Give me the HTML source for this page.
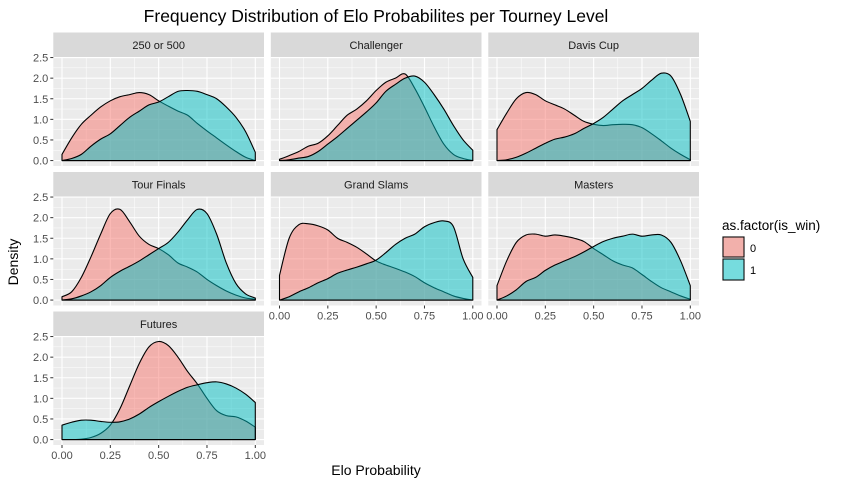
<!DOCTYPE html>
<html><head><meta charset="utf-8"><style>
body{margin:0;background:#fff;}
svg{display:block;font-family:"Liberation Sans",Arial,sans-serif;}
</style></head><body>
<svg id="chart" width="842" height="487" viewBox="0 0 842 487">
<text x="376" y="22" text-anchor="middle" font-size="17.5" fill="#000">Frequency Distribution of Elo Probabilites per Tourney Level</text>
<text x="376" y="475" text-anchor="middle" font-size="14" fill="#000">Elo Probability</text>
<text transform="translate(18,262) rotate(-90)" text-anchor="middle" font-size="14" fill="#000">Density</text>
<g>
<text x="722" y="230" font-size="13.5" fill="#000">as.factor(is_win)</text>
<rect x="722" y="236" width="23" height="22" fill="#EBEBEB"/>
<rect x="723" y="237" width="21" height="20" fill="#F2B0AB" stroke="#000" stroke-width="1"/>
<text x="750" y="252" font-size="11" fill="#000">0</text>
<rect x="722" y="258" width="23" height="23" fill="#EBEBEB"/>
<rect x="723" y="259" width="21" height="21" fill="#76DCDE" stroke="#000" stroke-width="1"/>
<text x="750" y="274" font-size="11" fill="#000">1</text>
</g>
</svg>
<script>
const panelNames = ["250 or 500","Challenger","Davis Cup","Tour Finals","Grand Slams","Masters","Futures"];
const xGrid = [0,0.05,0.1,0.15,0.2,0.25,0.3,0.35,0.4,0.45,0.5,0.55,0.6,0.65,0.7,0.75,0.8,0.85,0.9,0.95,1];
const lossSeries = [
 [0.15,0.55,0.88,1.1,1.3,1.45,1.55,1.6,1.65,1.6,1.45,1.32,1.2,1.1,0.9,0.72,0.55,0.38,0.22,0.08,0.0],
 [0.03,0.12,0.22,0.35,0.42,0.6,0.85,1.1,1.25,1.45,1.7,1.9,2.0,2.1,1.75,1.3,0.82,0.4,0.15,0.05,0.0],
 [0.75,1.15,1.5,1.65,1.6,1.45,1.35,1.25,1.1,0.95,0.88,0.85,0.87,0.88,0.87,0.8,0.65,0.48,0.3,0.15,0.02],
 [0.08,0.2,0.55,1.05,1.6,2.1,2.2,1.9,1.55,1.35,1.25,1.1,0.9,0.8,0.68,0.5,0.35,0.22,0.12,0.05,0.02],
 [0.6,1.5,1.83,1.85,1.8,1.7,1.5,1.4,1.28,1.12,0.95,0.85,0.77,0.68,0.57,0.42,0.3,0.2,0.1,0.04,0.0],
 [0.35,0.95,1.4,1.58,1.6,1.55,1.58,1.55,1.5,1.42,1.25,1.1,0.95,0.85,0.78,0.62,0.45,0.3,0.2,0.1,0.02],
 [0.0,0.0,0.01,0.05,0.15,0.35,0.75,1.3,1.85,2.25,2.38,2.28,2.0,1.65,1.35,1.0,0.7,0.58,0.55,0.45,0.3]
];
const winSeries = [
 [0,0.05,0.15,0.35,0.52,0.65,0.85,1.05,1.2,1.35,1.42,1.55,1.68,1.7,1.68,1.6,1.5,1.3,1.05,0.7,0.2],
 [0,0.02,0.06,0.1,0.22,0.4,0.58,0.78,0.98,1.18,1.4,1.68,1.85,2.0,2.05,1.9,1.6,1.25,0.85,0.5,0.25],
 [0,0.02,0.08,0.18,0.3,0.42,0.52,0.57,0.65,0.78,0.9,1.05,1.25,1.45,1.6,1.75,1.95,2.12,2.05,1.6,0.95],
 [0,0.03,0.1,0.2,0.35,0.55,0.7,0.82,0.95,1.1,1.25,1.4,1.65,1.95,2.2,2.1,1.6,0.9,0.4,0.15,0.05],
 [0,0.08,0.2,0.3,0.42,0.52,0.65,0.73,0.8,0.88,0.97,1.15,1.35,1.5,1.6,1.78,1.88,1.92,1.78,1.0,0.55],
 [0,0.1,0.25,0.45,0.55,0.72,0.85,0.95,1.05,1.17,1.3,1.42,1.5,1.55,1.6,1.55,1.58,1.58,1.4,0.95,0.35],
 [0.35,0.42,0.47,0.47,0.44,0.42,0.43,0.5,0.62,0.78,0.92,1.05,1.17,1.27,1.33,1.38,1.4,1.35,1.25,1.1,0.9]
];
const xTicks = [0,0.25,0.5,0.75,1];
const xTickLabels = ["0.00","0.25","0.50","0.75","1.00"];
const yTicks = [0,0.5,1,1.5,2,2.5];
const yTickLabels = ["0.0","0.5","1.0","1.5","2.0","2.5"];

const NS="http://www.w3.org/2000/svg";
const svg=document.getElementById('chart');
const colX=[53.3,270.8,488.3], rowY=[32.5,172,311.5];
const PW=210.7, SH=24.8, PH=108.7;
const XMIN=-0.045, XMAX=1.045, YMIN=-0.132, YMAX=2.506;
function mk(t,a){const e=document.createElementNS(NS,t);for(const k in a)e.setAttribute(k,a[k]);return e;}
function pathFrom(pts){
  let d="M"+pts[0][0].toFixed(2)+","+pts[0][1].toFixed(2);
  for(let i=0;i<pts.length-1;i++){
    const p0=pts[Math.max(i-1,0)],p1=pts[i],p2=pts[i+1],p3=pts[Math.min(i+2,pts.length-1)];
    const c1=[p1[0]+(p2[0]-p0[0])/6,p1[1]+(p2[1]-p0[1])/6];
    const c2=[p2[0]-(p3[0]-p1[0])/6,p2[1]-(p3[1]-p1[1])/6];
    d+="C"+c1[0].toFixed(2)+","+c1[1].toFixed(2)+" "+c2[0].toFixed(2)+","+c2[1].toFixed(2)+" "+p2[0].toFixed(2)+","+p2[1].toFixed(2);
  }
  return d;
}
panelNames.forEach((name,i)=>{
  const c=i%3,r=Math.floor(i/3);
  const px=colX[c],sy=rowY[r],py=sy+SH;
  const sx=v=>px+(v-XMIN)/(XMAX-XMIN)*PW;
  const syv=v=>py+PH-(v-YMIN)/(YMAX-YMIN)*PH;
  const g=mk('g',{});
  
  
  svg.appendChild(g);
  const strip=mk('rect',{x:px,y:sy,width:PW,height:SH,fill:'#D9D9D9'});
  
  
  g.appendChild(strip);
  const st=mk('text',{x:px+PW/2,y:sy+16.5,'text-anchor':'middle','font-size':'11','fill':'#1A1A1A'});
  st.textContent=name;
  
  
  g.appendChild(st);
  const bg=mk('rect',{x:px,y:py,width:PW,height:PH,fill:'#EBEBEB'});
  
  
  g.appendChild(bg);
  for(let k=0;k<4;k++){const v=0.125+0.25*k;g.appendChild(mk('line',{x1:sx(v),x2:sx(v),y1:py,y2:py+PH,stroke:'#fff','stroke-width':0.5}));}
  for(let k=0;k<5;k++){const v=0.25+0.5*k;g.appendChild(mk('line',{x1:px,x2:px+PW,y1:syv(v),y2:syv(v),stroke:'#fff','stroke-width':0.5}));}
  xTicks.forEach(v=>g.appendChild(mk('line',{x1:sx(v),x2:sx(v),y1:py,y2:py+PH,stroke:'#fff','stroke-width':1.1})));
  yTicks.forEach(v=>g.appendChild(mk('line',{x1:px,x2:px+PW,y1:syv(v),y2:syv(v),stroke:'#fff','stroke-width':1.1})));
  [[lossSeries[i],'rgba(248,118,109,0.5)','density-loss'],[winSeries[i],'rgba(0,191,196,0.5)','density-win']].forEach(([vals,fill,nm])=>{
    const pts=xGrid.map((x,k)=>[sx(x),syv(vals[k])]);
    const d=pathFrom(pts)+"L"+sx(1).toFixed(2)+","+syv(0).toFixed(2)+"L"+sx(0).toFixed(2)+","+syv(0).toFixed(2)+"Z";
    const p=mk('path',{d:d,fill:fill,stroke:'#000','stroke-width':1.1,'stroke-linejoin':'round'});
    
    
    g.appendChild(p);
  });
  if(c===0){
    yTicks.forEach((v,k)=>{
      g.appendChild(mk('line',{x1:px-3,x2:px,y1:syv(v),y2:syv(v),stroke:'#333','stroke-width':1}));
      const t=mk('text',{x:px-5,y:syv(v)+4,'text-anchor':'end','font-size':'11',fill:'#4D4D4D'});
      t.textContent=yTickLabels[k];
      
      
      g.appendChild(t);
    });
  }
  if(i>=4){
    xTicks.forEach((v,k)=>{
      g.appendChild(mk('line',{x1:sx(v),x2:sx(v),y1:py+PH,y2:py+PH+3,stroke:'#333','stroke-width':1}));
      const t=mk('text',{x:sx(v),y:py+PH+14,'text-anchor':'middle','font-size':'11',fill:'#4D4D4D'});
      t.textContent=xTickLabels[k];
      
      
      g.appendChild(t);
    });
  }
});
</script>
</body></html>
